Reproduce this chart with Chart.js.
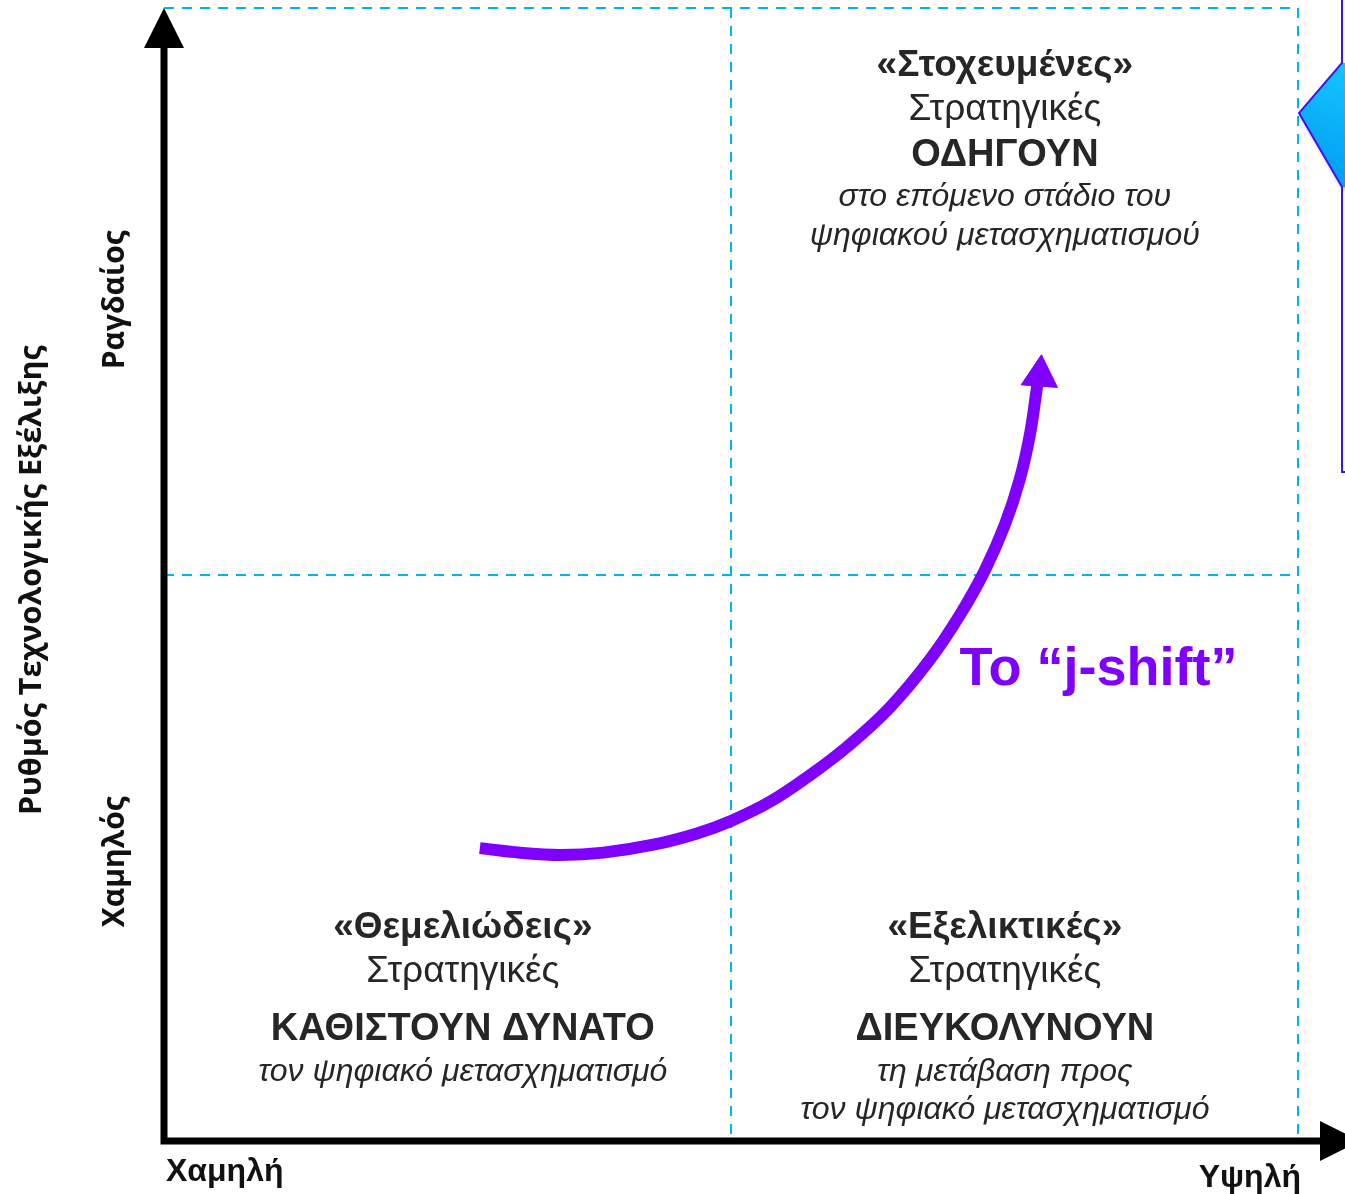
<!DOCTYPE html>
<html lang="el">
<head>
<meta charset="utf-8">
<title>j-shift</title>
<script src="https://cdn.jsdelivr.net/npm/chart.js@4.4.1/dist/chart.umd.min.js"></script>
<style>
  html, body { margin: 0; padding: 0; background: #fff; }
  #wrap { width: 1345px; height: 1194px; }
</style>
</head>
<body>
<div id="wrap"><canvas id="grafico" width="1345" height="1194"></canvas></div>
<script>
"use strict";

////////////////////////////////////////////////////// datos
// ejes de 0 (bajo) a 2 (alto), con divisiones cada 1
const ejeMin = 0;
const ejeMax = 2;
const paso = 1;

// curva "j-shift" en unidades de los ejes
const curvaX = [0.557, 0.628, 0.698, 0.775, 0.863, 0.940, 1.000, 1.069, 1.134, 1.205, 1.280, 1.351, 1.404, 1.448, 1.483, 1.509, 1.527, 1.539, 1.542];
const curvaY = [0.517, 0.509, 0.505, 0.509, 0.523, 0.543, 0.565, 0.599, 0.642, 0.696, 0.765, 0.850, 0.929, 1.008, 1.088, 1.167, 1.246, 1.326, 1.347];
// punta de la flecha
const puntaX = [1.545];
const puntaY = [1.351];

// textos de los ejes
const etiquetasX = ["Χαμηλή", "Υψηλή"];
const etiquetasY = ["Χαμηλός", "Ραγδαίος"];
const posEtiquetasY = [0.493, 1.485];
const tituloY = "Ρυθμός Τεχνολογικής Εξέλιξης";
const posTituloY = 0.99;

// texto de la curva
const textoCurva = "Το “j-shift”";
const posTextoCurva = [1.403, 0.831];

// textos de los cuadrantes
const cuadranteAltoDer = ["«Στοχευμένες»", "Στρατηγικές", "ΟΔΗΓΟΥΝ", "στο επόμενο στάδιο του", "ψηφιακού μετασχηματισμού"];
const cuadranteBajoIzq = ["«Θεμελιώδεις»", "Στρατηγικές", "ΚΑΘΙΣΤΟΥΝ ΔΥΝΑΤΟ", "τον ψηφιακό μετασχηματισμό"];
const cuadranteBajoDer = ["«Εξελικτικές»", "Στρατηγικές", "ΔΙΕΥΚΟΛΥΝΟΥΝ", "τη μετάβαση προς", "τον ψηφιακό μετασχηματισμό"];
const posCuadrantes = [[1.483, 1.898], [0.527, 0.376], [1.483, 0.376]];

////////////////////////////////////////////////////// estilos
const morado = "#7f00ff";
const azul = "#00b4f0";
const gris = "#262626";
const arial = "'Liberation Sans', Arial, sans-serif";
const calibri = "'Open Sans', 'Noto Sans', sans-serif";
// estilo y separación de cada línea de un cuadrante
const fuentesLinea = ["bold 37px", "37px", "bold 38px", "italic 32px", "italic 32px"];
const saltosAlto = [0, 44, 90, 131, 170];
const saltosBajo = [0, 44, 102, 144, 182];

var curva = curvaX.map((x, i) => ({ x: x, y: curvaY[i] }));
var punta = puntaX.map((x, i) => ({ x: x, y: puntaY[i] }));

////////////////////////////////////////////////////// plugin: ejes, flechas y textos
function pintarBloque(ctx, xs, ys, lineas, pos, saltos) {
    const cx = xs.getPixelForValue(pos[0]);
    const cy = ys.getPixelForValue(pos[1]);
    ctx.fillStyle = gris;
    ctx.textAlign = "center";
    ctx.textBaseline = "middle";
    lineas.forEach((txt, i) => {
        ctx.font = fuentesLinea[i] + " " + arial;
        ctx.fillText(txt, cx, cy + saltos[i]);
    });
}

function pintarVertical(ctx, txt, x, y) {
    ctx.save();
    ctx.translate(x, y);
    ctx.rotate(-Math.PI / 2);
    ctx.fillText(txt, 0, 0);
    ctx.restore();
}

const decoracion = {
    id: "decoracion",
    afterDraw(chart) {
        const ctx = chart.ctx;
        const xs = chart.scales.x;
        const ys = chart.scales.y;
        const izq = xs.getPixelForValue(ejeMin);
        const der = xs.getPixelForValue(ejeMax);
        const abajo = ys.getPixelForValue(ejeMin);
        const arriba = ys.getPixelForValue(ejeMax);
        ctx.save();

        // ejes negros
        ctx.strokeStyle = "#000";
        ctx.fillStyle = "#000";
        ctx.lineWidth = 7;
        ctx.lineCap = "butt";
        ctx.beginPath();
        ctx.moveTo(izq, arriba + 38);
        ctx.lineTo(izq, abajo + 3.5);
        ctx.moveTo(izq - 3.5, abajo);
        ctx.lineTo(der + 24, abajo);
        ctx.stroke();
        ctx.beginPath();
        ctx.moveTo(izq, arriba);
        ctx.lineTo(izq - 20, arriba + 40);
        ctx.lineTo(izq + 20, arriba + 40);
        ctx.closePath();
        ctx.fill();
        ctx.beginPath();
        ctx.moveTo(der + 22, abajo - 20);
        ctx.lineTo(der + 62, abajo);
        ctx.lineTo(der + 22, abajo + 20);
        ctx.closePath();
        ctx.fill();

        // etiquetas del eje X
        ctx.fillStyle = "#111";
        ctx.font = "bold 32px " + arial;
        ctx.textBaseline = "alphabetic";
        ctx.textAlign = "left";
        ctx.fillText(etiquetasX[0], izq + 2, abajo + 40);
        ctx.textAlign = "right";
        ctx.fillText(etiquetasX[1], der + 3, abajo + 46);

        // etiquetas del eje Y
        ctx.textAlign = "center";
        ctx.textBaseline = "middle";
        ctx.font = "bold 30px " + calibri;
        etiquetasY.forEach((txt, i) => {
            pintarVertical(ctx, txt, izq - 49, ys.getPixelForValue(posEtiquetasY[i]));
        });
        ctx.font = "bold 30.5px " + calibri;
        pintarVertical(ctx, tituloY, izq - 132, ys.getPixelForValue(posTituloY));

        // cuadrantes
        pintarBloque(ctx, xs, ys, cuadranteAltoDer, posCuadrantes[0], saltosAlto);
        pintarBloque(ctx, xs, ys, cuadranteBajoIzq, posCuadrantes[1], saltosBajo);
        pintarBloque(ctx, xs, ys, cuadranteBajoDer, posCuadrantes[2], saltosBajo);

        // texto de la curva
        ctx.fillStyle = morado;
        ctx.font = "bold 54px " + arial;
        ctx.textAlign = "left";
        ctx.fillText(textoCurva, xs.getPixelForValue(posTextoCurva[0]), ys.getPixelForValue(posTextoCurva[1]));

        // llamada azul cortada en el borde derecho
        const bx = der + 44;
        ctx.shadowColor = "rgba(0,0,0,0.3)";
        ctx.shadowBlur = 4;
        ctx.shadowOffsetX = 1;
        ctx.shadowOffsetY = 2;
        const grad = ctx.createLinearGradient(der, arriba + 180, bx + 10, arriba + 50);
        grad.addColorStop(0, "#0098f0");
        grad.addColorStop(1, "#16c8ff");
        ctx.fillStyle = grad;
        ctx.beginPath();
        ctx.moveTo(bx, arriba + 55);
        ctx.lineTo(der + 1, arriba + 105);
        ctx.lineTo(bx, arriba + 179);
        ctx.lineTo(bx + 10, arriba + 179);
        ctx.lineTo(bx + 10, arriba + 55);
        ctx.closePath();
        ctx.fill();
        ctx.shadowColor = "rgba(0,0,0,0)";
        ctx.strokeStyle = "#3b14f5";
        ctx.lineWidth = 2;
        ctx.beginPath();
        ctx.moveTo(bx, -5);
        ctx.lineTo(bx, arriba + 55);
        ctx.lineTo(der + 1, arriba + 105);
        ctx.lineTo(bx, arriba + 179);
        ctx.lineTo(bx, arriba + 464);
        ctx.lineTo(bx + 20, arriba + 464);
        ctx.stroke();
        ctx.restore();
    },
};

////////////////////////////////////////////////////// escala
function opcionesEje(tamano) {
    return {
        type: "linear",
        min: ejeMin,
        max: ejeMax,
        ticks: { display: false, stepSize: paso },
        grid: {
            drawTicks: false,
            lineWidth: 2,
            color: (c) => (c.tick && c.tick.value === ejeMin ? "rgba(0,0,0,0)" : azul),
        },
        border: { display: false, dash: [10, 8] },
        afterFit: (s) => { s[tamano] = 0; },
    };
}

////////////////////////////////////////////////////// MAIN
new Chart(document.getElementById("grafico"), {
    type: "scatter",
    data: {
        datasets: [
            {
                type: "line",
                data: curva,
                borderColor: morado,
                borderWidth: 12,
                borderCapStyle: "butt",
                pointRadius: 0,
                tension: 0.4,
                fill: false,
            },
            {
                type: "scatter",
                data: punta,
                pointStyle: "triangle",
                pointRadius: 21,
                rotation: 4,
                backgroundColor: morado,
                borderColor: morado,
                borderWidth: 1,
            },
        ],
    },
    options: {
        responsive: false,
        animation: false,
        layout: { autoPadding: false, padding: { left: 164, right: 47, top: 8, bottom: 53 } },
        plugins: { legend: { display: false }, tooltip: { enabled: false } },
        scales: { x: opcionesEje("height"), y: opcionesEje("width") },
    },
    plugins: [decoracion],
});
</script>
</body>
</html>
